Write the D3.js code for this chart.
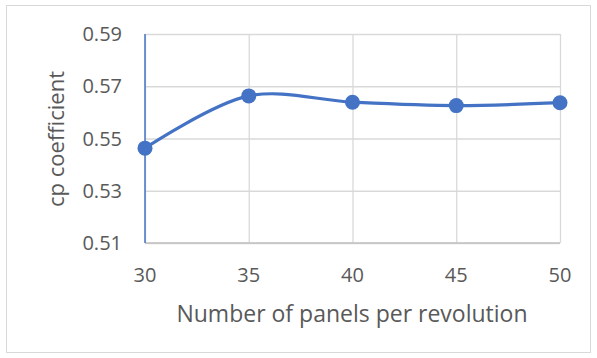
<!DOCTYPE html>
<html>
<head>
<meta charset="utf-8">
<script src="https://cdn.jsdelivr.net/npm/d3@7"></script>
<style>
  html, body { margin: 0; padding: 0; background: #fff; }
  svg { display: block; }
  text { font-family: "Open Sans", Lato, sans-serif; fill: #595959; }
</style>
</head>
<body>
<svg id="chart" width="597" height="358"></svg>
<script>
// Panels per revolution vs. power coefficient
const panels = [30, 35, 40, 45, 50];
const cpValues = [0.5463, 0.5663, 0.5639, 0.5626, 0.5637];
const yTicks = [0.51, 0.53, 0.55, 0.57, 0.59];
const xTicks = [30, 35, 40, 45, 50];

const svg = d3.select("#chart");
const W = 597, H = 358;
const plot = { left: 145, right: 560, top: 34, bottom: 243 };

// chart frame
svg.append("rect")
  .attr("x", 6.5).attr("y", 5.5)
  .attr("width", W - 13).attr("height", H - 11)
  .attr("fill", "#fff").attr("stroke", "#d9d9d9").attr("stroke-width", 1);

const x = d3.scaleLinear().domain([30, 50]).range([plot.left, plot.right]);
const y = d3.scaleLinear().domain([0.51, 0.59]).range([plot.bottom, plot.top]);

// horizontal gridlines
svg.append("g")
  .attr("transform", `translate(${plot.left},0)`)
  .call(d3.axisLeft(y).tickValues(yTicks).tickSize(-(plot.right - plot.left)).tickFormat(""))
  .call(g => g.select(".domain").remove())
  .call(g => g.selectAll("line").attr("stroke", "#d9d9d9").attr("stroke-width", 1.3));

// vertical gridlines
svg.append("g")
  .attr("transform", `translate(0,${plot.bottom})`)
  .call(d3.axisBottom(x).tickValues(xTicks).tickSize(-(plot.bottom - plot.top)).tickFormat(""))
  .call(g => g.select(".domain").remove())
  .call(g => g.selectAll("line").attr("stroke", "#d9d9d9").attr("stroke-width", 1.3));

// bottom axis line
svg.append("line")
  .attr("x1", plot.left).attr("x2", plot.right)
  .attr("y1", plot.bottom).attr("y2", plot.bottom)
  .attr("stroke", "#bfbfbf").attr("stroke-width", 1.3);

// left axis line (blue)
svg.append("line")
  .attr("x1", plot.left).attr("x2", plot.left)
  .attr("y1", plot.top).attr("y2", plot.bottom)
  .attr("stroke", "#4472c4").attr("stroke-width", 1.5);

// y tick labels
svg.append("g").selectAll("text")
  .data(yTicks).join("text")
  .attr("x", 122).attr("y", d => y(d) + 7)
  .attr("text-anchor", "end")
  .style("font-size", "20px")
  .text(d => d3.format(".2f")(d));

// x tick labels
svg.append("g").selectAll("text")
  .data(xTicks).join("text")
  .attr("x", d => x(d)).attr("y", 282)
  .attr("text-anchor", "middle")
  .style("font-size", "20px")
  .text(d => d);

// axis titles
svg.append("text")
  .attr("x", 352).attr("y", 322)
  .attr("text-anchor", "middle")
  .style("font-size", "23px")
  .text("Number of panels per revolution");

svg.append("text")
  .attr("transform", "translate(64,139) rotate(-90)")
  .attr("text-anchor", "middle")
  .style("font-size", "22px")
  .text("cp coefficient");

// smoothed series line
const pts = panels.map((p, i) => [p, cpValues[i]]);
svg.append("path")
  .datum(pts)
  .attr("fill", "none")
  .attr("stroke", "#4472c4")
  .attr("stroke-width", 3.2)
  .attr("stroke-linecap", "round")
  .attr("d", d3.line().x(d => x(d[0])).y(d => y(d[1])).curve(d3.curveCatmullRom.alpha(0.5)));

// markers
svg.append("g").selectAll("circle")
  .data(pts).join("circle")
  .attr("cx", d => x(d[0])).attr("cy", d => y(d[1]))
  .attr("r", 7.5)
  .attr("fill", "#4472c4");
</script>
</body>
</html>
